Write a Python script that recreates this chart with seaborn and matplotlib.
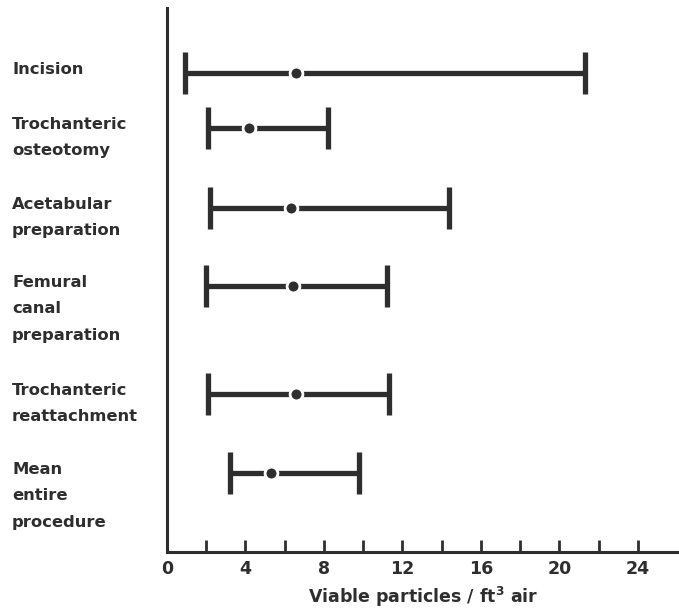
import matplotlib
matplotlib.use("Agg")
import matplotlib.pyplot as plt
import seaborn as sns
import pandas as pd
from matplotlib.ticker import FixedLocator

# ---- data ----
categories = ["Incision", "Trochanteric\nosteotomy", "Acetabular\npreparation",
              "Femural\ncanal\npreparation", "Trochanteric\nreattachment",
              "Mean\nentire\nprocedure"]
low_values = [0.9, 2.1, 2.2, 2.0, 2.1, 3.2]
mean_values = [6.6, 4.2, 6.3, 6.4, 6.6, 5.3]
high_values = [21.3, 8.2, 14.4, 11.2, 11.3, 9.8]
x_ticks = [0, 4, 8, 12, 16, 20, 24]
x_minor_ticks = [2, 6, 10, 14, 18, 22]
x_label = "Viable particles / ft$^{\\mathbf{3}}$ air"

# ---- layout (row positions, top-down) ----
row_pos = [73, 128, 208, 286, 394, 473]

df = pd.DataFrame({"category": categories, "low": low_values,
                   "mean": mean_values, "high": high_values, "row": row_pos})

sns.set_style("white")
plt.rcParams["font.family"] = ["DejaVu Sans"]
plt.rcParams["font.weight"] = "bold"

color = "#2e2e2e"
fig = plt.figure(figsize=(6.79, 6.14), dpi=100)
ax = fig.add_axes([0.246, 0.101, 0.754, 0.886])

ax.errorbar(df["mean"], df["row"],
            xerr=[df["mean"] - df["low"], df["high"] - df["mean"]],
            fmt="none", ecolor=color, elinewidth=3.8, capsize=15, capthick=3.8,
            zorder=2)
sns.scatterplot(data=df, x="mean", y="row", ax=ax, s=85, color=color,
                edgecolor="white", linewidth=2.0, zorder=3, legend=False)

ax.set_xlim(0, 26.1)
ax.set_ylim(552, 8)
ax.set_yticks([])
ax.set_ylabel("")
ax.set_xticks(x_ticks)
ax.xaxis.set_minor_locator(FixedLocator(x_minor_ticks))
ax.tick_params(axis="x", which="both", bottom=True, direction="in", length=9,
               width=2, color=color, labelsize=12.5, pad=6, labelcolor=color)
for lbl in ax.get_xticklabels():
    lbl.set_fontweight("bold")
ax.set_xlabel(x_label, fontsize=12.5, fontweight="bold", color=color, labelpad=5)

for side in ["top", "right"]:
    ax.spines[side].set_visible(False)
for side in ["left", "bottom"]:
    ax.spines[side].set_color(color)
    ax.spines[side].set_linewidth(2.2)

for cat, r in zip(categories, row_pos):
    ax.annotate(cat, xy=(12 / 679, r), xycoords=("figure fraction", "data"),
                xytext=(0, 8), textcoords="offset points",
                ha="left", va="top", fontsize=11.8, fontweight="bold",
                color=color, linespacing=1.95)

fig.savefig("out.png", dpi=100)
